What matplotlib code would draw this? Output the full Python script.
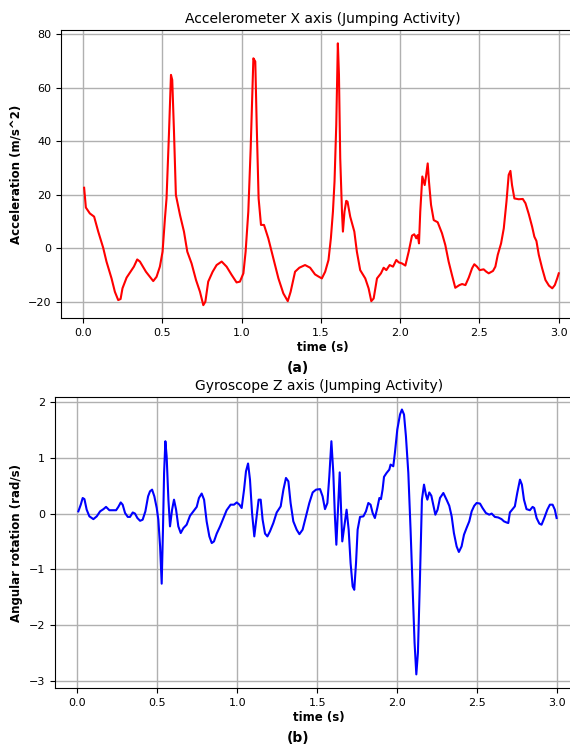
import matplotlib
matplotlib.use("Agg")
import matplotlib.pyplot as plt

# ---- Accelerometer X (top panel) ----
acc_t = [0.006, 0.017, 0.042, 0.069, 0.095, 0.126, 0.147, 0.179, 0.200, 0.221, 0.236, 0.248,
         0.274, 0.305, 0.320, 0.341, 0.358, 0.396, 0.421, 0.442, 0.463, 0.484, 0.501, 0.516,
         0.526, 0.541, 0.554, 0.562, 0.573, 0.585, 0.611, 0.636, 0.657, 0.684, 0.712, 0.737,
         0.758, 0.771, 0.789, 0.817, 0.842, 0.874, 0.905, 0.937, 0.968, 0.989, 1.011, 1.025,
         1.042, 1.057, 1.074, 1.086, 1.095, 1.107, 1.122, 1.141, 1.168, 1.200, 1.232, 1.263,
         1.291, 1.309, 1.337, 1.364, 1.400, 1.432, 1.463, 1.485, 1.506, 1.527, 1.548, 1.563,
         1.576, 1.586, 1.597, 1.607, 1.614, 1.622, 1.633, 1.639, 1.649, 1.660, 1.668, 1.685,
         1.711, 1.727, 1.748, 1.780, 1.801, 1.818, 1.833, 1.854, 1.879, 1.896, 1.913, 1.934,
         1.955, 1.976, 1.991, 2.012, 2.033, 2.054, 2.075, 2.089, 2.102, 2.111, 2.119, 2.127,
         2.140, 2.155, 2.163, 2.174, 2.182, 2.195, 2.212, 2.237, 2.264, 2.285, 2.306, 2.327,
         2.348, 2.374, 2.391, 2.412, 2.433, 2.454, 2.468, 2.485, 2.502, 2.527, 2.544, 2.559,
         2.586, 2.601, 2.616, 2.637, 2.654, 2.671, 2.685, 2.696, 2.706, 2.721, 2.748, 2.774,
         2.791, 2.812, 2.833, 2.847, 2.860, 2.875, 2.896, 2.917, 2.939, 2.960, 2.976, 2.991,
         3.001]
acc_x = [22.6, 15.2, 13.0, 11.8, 6.2, 0.2, -5.0, -11.3, -16.3, -19.4, -19.0, -15.0,
         -11.0, -8.2, -6.9, -4.2, -5.0, -8.8, -10.7, -12.3, -10.7, -6.9, -1.3, 11.2,
         18.6, 42.3, 64.8, 62.9, 43.6, 19.9, 12.4, 6.2, -1.3, -5.7, -11.9, -16.3,
         -21.3, -20.0, -12.5, -8.8, -6.3, -5.0, -6.9, -10.0, -12.8, -12.5, -9.4, -1.3,
         13.7, 37.4, 71.0, 69.8, 46.1, 18.6, 8.7, 8.7, 3.7, -3.8, -11.3, -16.9,
         -19.8, -16.3, -8.8, -7.3, -6.3, -7.3, -9.8, -10.6, -11.3, -8.8, -4.4, 3.7,
         13.7, 24.9, 46.1, 76.6, 64.8, 33.6, 13.7, 6.2, 13.7, 17.7, 17.4, 11.8,
         6.2, -1.3, -8.2, -11.3, -15.0, -19.8, -18.8, -11.3, -9.4, -7.3, -8.2, -6.3,
         -6.9, -4.4, -5.3, -5.7, -6.5, -1.3, 4.7, 5.2, 3.7, 4.9, 1.8, 13.7,
         26.8, 23.6, 26.8, 31.7, 24.9, 16.2, 10.5, 9.7, 5.6, 1.2, -5.0, -10.0,
         -14.8, -13.8, -13.4, -13.8, -11.0, -7.5, -6.0, -6.9, -8.2, -7.9, -8.8, -9.4,
         -8.5, -6.9, -2.5, 1.8, 7.4, 17.4, 27.4, 28.9, 23.6, 18.6, 18.3, 18.4,
         16.8, 12.7, 8.0, 4.3, 2.7, -2.5, -7.5, -11.9, -14.0, -15.0, -13.8, -11.3,
         -9.4]

# ---- Gyroscope Z (bottom panel) ----
gyr_t = [0.006, 0.021, 0.033, 0.044, 0.058, 0.075, 0.100, 0.121, 0.142, 0.163, 0.179, 0.200,
         0.221, 0.242, 0.256, 0.271, 0.283, 0.298, 0.315, 0.329, 0.346, 0.360, 0.375, 0.392,
         0.408, 0.425, 0.442, 0.454, 0.467, 0.481, 0.496, 0.506, 0.517, 0.527, 0.535, 0.542,
         0.550, 0.558, 0.569, 0.579, 0.592, 0.604, 0.617, 0.631, 0.646, 0.663, 0.683, 0.704,
         0.725, 0.746, 0.760, 0.777, 0.792, 0.808, 0.825, 0.840, 0.854, 0.871, 0.892, 0.913,
         0.933, 0.958, 0.979, 0.996, 1.013, 1.027, 1.042, 1.054, 1.067, 1.079, 1.092, 1.106,
         1.121, 1.133, 1.146, 1.158, 1.173, 1.188, 1.204, 1.225, 1.246, 1.271, 1.288, 1.304,
         1.319, 1.333, 1.350, 1.371, 1.388, 1.408, 1.429, 1.450, 1.471, 1.492, 1.517, 1.533,
         1.548, 1.563, 1.575, 1.588, 1.600, 1.610, 1.619, 1.629, 1.640, 1.648, 1.656, 1.669,
         1.683, 1.696, 1.708, 1.721, 1.731, 1.742, 1.752, 1.767, 1.788, 1.804, 1.819, 1.833,
         1.846, 1.860, 1.875, 1.888, 1.898, 1.908, 1.917, 1.933, 1.950, 1.958, 1.975, 1.985,
         2.000, 2.017, 2.029, 2.042, 2.054, 2.069, 2.083, 2.096, 2.108, 2.119, 2.129, 2.142,
         2.154, 2.167, 2.179, 2.188, 2.200, 2.213, 2.225, 2.238, 2.252, 2.267, 2.288, 2.308,
         2.325, 2.340, 2.354, 2.371, 2.385, 2.402, 2.417, 2.433, 2.450, 2.465, 2.481, 2.496,
         2.517, 2.533, 2.554, 2.575, 2.590, 2.610, 2.631, 2.652, 2.667, 2.683, 2.694, 2.704,
         2.721, 2.735, 2.750, 2.767, 2.779, 2.792, 2.808, 2.829, 2.846, 2.856, 2.871, 2.888,
         2.902, 2.919, 2.938, 2.954, 2.971, 2.985, 2.996]
gyr_z = [0.04, 0.16, 0.28, 0.26, 0.07, -0.05, -0.10, -0.05, 0.04, 0.08, 0.12, 0.06,
         0.06, 0.06, 0.12, 0.20, 0.16, 0.01, -0.06, -0.06, 0.02, 0.00, -0.08, -0.13,
         -0.11, 0.04, 0.31, 0.40, 0.43, 0.31, 0.10, -0.11, -0.59, -1.26, -0.29, 0.73,
         1.30, 1.03, 0.25, -0.23, 0.07, 0.25, 0.07, -0.23, -0.35, -0.26, -0.20, -0.04,
         0.04, 0.12, 0.28, 0.36, 0.25, -0.14, -0.41, -0.53, -0.50, -0.36, -0.23, -0.08,
         0.06, 0.16, 0.16, 0.20, 0.16, 0.10, 0.43, 0.76, 0.90, 0.61, 0.01, -0.41,
         -0.05, 0.25, 0.25, -0.11, -0.36, -0.41, -0.32, -0.17, 0.02, 0.13, 0.43, 0.64,
         0.58, 0.19, -0.14, -0.29, -0.37, -0.29, -0.05, 0.19, 0.38, 0.43, 0.44, 0.31,
         0.08, 0.19, 0.67, 1.30, 0.73, -0.05, -0.56, 0.07, 0.74, 0.13, -0.50, -0.23,
         0.07, -0.29, -0.89, -1.31, -1.37, -0.89, -0.29, -0.06, -0.05, 0.04, 0.19, 0.16,
         0.01, -0.08, 0.10, 0.28, 0.26, 0.43, 0.66, 0.73, 0.79, 0.88, 0.85, 1.09,
         1.51, 1.78, 1.87, 1.78, 1.39, 0.73, -0.29, -1.37, -2.32, -2.89, -2.50, -1.13,
         0.25, 0.52, 0.34, 0.25, 0.38, 0.32, 0.16, -0.02, 0.07, 0.28, 0.37, 0.25,
         0.14, -0.05, -0.35, -0.59, -0.69, -0.59, -0.38, -0.26, -0.14, 0.04, 0.14, 0.19,
         0.18, 0.10, 0.01, -0.02, 0.00, -0.06, -0.07, -0.10, -0.14, -0.16, -0.17, 0.02,
         0.08, 0.13, 0.37, 0.61, 0.52, 0.25, 0.08, 0.06, 0.12, 0.10, -0.08, -0.18,
         -0.20, -0.08, 0.07, 0.16, 0.16, 0.07, -0.08]

x_ticks = [0.0, 0.5, 1.0, 1.5, 2.0, 2.5, 3.0]
acc_yticks = [-20, 0, 20, 40, 60, 80]
gyr_yticks = [-3, -2, -1, 0, 1, 2]

plt.rcParams['font.family'] = ['DejaVu Sans']

fig = plt.figure(figsize=(5.7, 7.45), dpi=100)

ax1 = fig.add_axes([0.1070, 0.5728, 0.9175, 0.3870])
ax1.plot(acc_t, acc_x, color='red', linewidth=1.5)
ax1.set_xlim(-0.14, 3.16)
ax1.set_ylim(-26.2, 81.6)
ax1.set_xticks(x_ticks)
ax1.set_yticks(acc_yticks)
ax1.grid(True, color='#b0b0b0', linewidth=1.0)
ax1.set_title('Accelerometer X axis (Jumping Activity)', fontsize=10, pad=5)
ax1.set_xlabel('time (s)', fontsize=8.5, fontweight='bold', labelpad=2)
ax1.set_ylabel('Acceleration (m/s^2)', fontsize=8.5, fontweight='bold')
ax1.yaxis.set_label_coords(-0.0727, 0.5)
ax1.tick_params(labelsize=8)

ax2 = fig.add_axes([0.0965, 0.0761, 0.926, 0.3914])
ax2.plot(gyr_t, gyr_z, color='blue', linewidth=1.5)
ax2.set_xlim(-0.14, 3.16)
ax2.set_ylim(-3.14, 2.10)
ax2.set_xticks(x_ticks)
ax2.set_yticks(gyr_yticks)
ax2.grid(True, color='#b0b0b0', linewidth=1.0)
ax2.set_title('Gyroscope Z axis (Jumping Activity)', fontsize=10, pad=5)
ax2.set_xlabel('time (s)', fontsize=8.5, fontweight='bold', labelpad=2)
ax2.set_ylabel('Angular rotation (rad/s)', fontsize=8.5, fontweight='bold')
ax2.yaxis.set_label_coords(-0.0606, 0.5)
ax2.tick_params(labelsize=8)

fig.text(0.523, 1 - 368 / 745, '(a)', fontsize=10, fontweight='bold', ha='center', va='center')
fig.text(0.523, 1 - 738 / 745, '(b)', fontsize=10, fontweight='bold', ha='center', va='center')

fig.savefig('out.png', dpi=100)
